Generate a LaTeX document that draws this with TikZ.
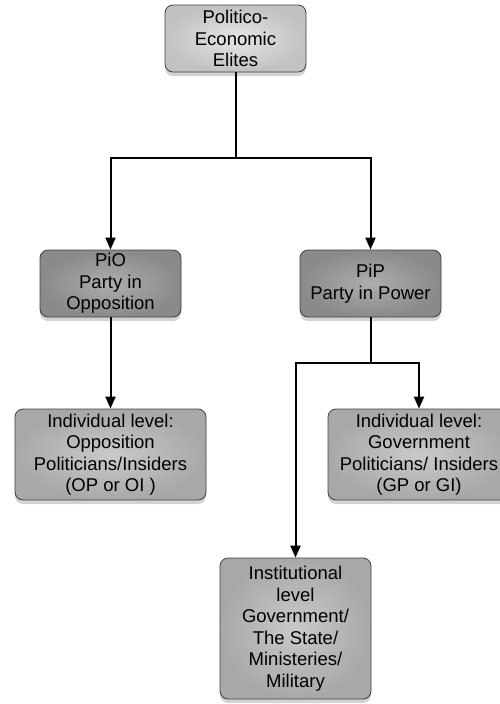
\documentclass[tikz,border=0pt]{standalone}
\usepackage{fontspec}
\setmainfont{Liberation Sans}
\usetikzlibrary{arrows.meta,shadows}
\usetikzlibrary{positioning}

\begin{document}
\begin{tikzpicture}[x=1pt,y=-1pt,>={Triangle[width=10pt,length=12pt]},line width=2pt,
 every node/.style={draw=black!75,line width=0.8pt,rounded corners=8pt,align=center,inner sep=2pt,
  font=\fontsize{18.5}{21.5}\selectfont,drop shadow={opacity=0.35,shadow xshift=0pt,shadow yshift=-4pt}},
 elitebox/.style={minimum width=141pt,minimum height=67pt,inner color=black!10,outer color=black!24},
 partybox/.style={minimum width=141pt,minimum height=67pt,inner color=black!32,outer color=black!46},
 levelbox/.style={minimum height=91pt,inner color=black!21,outer color=black!34}]
\useasboundingbox (0,0) rectangle (500,704);
\node[elitebox] (elites) at (235.5,38.5) {Politico-\\ Economic\\ Elites};
\node[partybox] (pio) at (110.5,283.5) {PiO\\ Party in\\ Opposition};
\node[partybox] (pip) at (370.5,283.5) {PiP\\ Party in Power};
\node[levelbox,minimum width=191pt] (op) at (110.5,454.5) {Individual level:\\ Opposition\\ Politicians/Insiders\\ (OP or OI )};
\node[levelbox,minimum width=182pt] (gp) at (419,454.5) {Individual level:\\ Government\\ Politicians/ Insiders\\ (GP or GI)};
\node[levelbox,minimum width=151pt,minimum height=141pt] (inst) at (295.5,628.5) {Institutional\\ level\\ Government/\\ The State/\\ Ministeries/\\ Military};
\coordinate (split1) at (235.5,158);
\coordinate (split2) at (370.5,363);
\draw (elites) -- (split1);
\draw (pip) -- (split2);
\foreach \x/\y in {split1/pio,split1/pip,split2/inst,split2/gp} \draw[->] (\x) -| (\y);
\draw[->] (pio) -- (op);
\end{tikzpicture}
\end{document}
